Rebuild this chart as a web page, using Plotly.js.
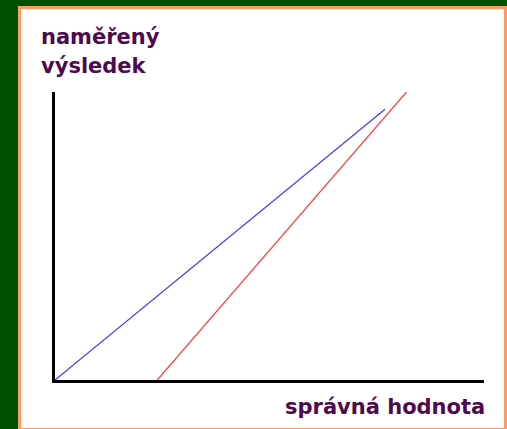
<!DOCTYPE html>
<html>
<head>
<meta charset="utf-8">
<script src="https://cdn.plot.ly/plotly-3.0.1.min.js"></script>
<style>
  html, body { margin:0; padding:0; background:#005000; }
  #chart { width:507px; height:429px; }
</style>
</head>
<body>
<div id="chart"></div>
<script>
// ---- Data ----
const blueX = [0, 10];
const blueY = [0, 8.2];
const redX = [3.1, 10.65];
const redY = [0, 8.72];

const yTitleLines = ['naměřený', 'výsledek'];
const xTitle = 'správná hodnota';

const textColor = '#4d0a4d';
const txtFont = { family: 'DejaVu Sans', size: 21, color: textColor, weight: 'bold' };

const traces = [
  { type:'scatter', mode:'lines', x: blueX, y: blueY, line:{ color:'rgb(60,60,255)', width:1.2 }, hoverinfo:'skip' },
  { type:'scatter', mode:'lines', x: redX, y: redY, line:{ color:'rgb(255,60,60)', width:1.2 }, hoverinfo:'skip' }
];

const ax = { showline:true, linewidth:3, linecolor:'#000', showgrid:false, zeroline:false,
  showticklabels:false, ticks:'', fixedrange:true };

const layout = {
  width: 507, height: 429,
  margin: { l:55, r:23, t:92, b:49 },
  paper_bgcolor: '#005000',
  plot_bgcolor: 'rgba(0,0,0,0)',
  showlegend: false,
  xaxis: { ...ax, range:[0, 13] },
  yaxis: { ...ax, range:[0, 8.72] },
  shapes: [
    { type:'rect', xref:'paper', yref:'paper', layer:'below',
      x0:-0.0828, x1:1.0501, y0:-0.1719, y1:1.2934,
      fillcolor:'#fff', line:{ color:'#ff9966', width:3 } }
  ],
  annotations: [
    { xref:'paper', yref:'paper', x:-0.0373, y:1.191, xanchor:'left', yanchor:'middle',
      text: yTitleLines[0], showarrow:false, font: txtFont },
    { xref:'paper', yref:'paper', x:-0.0373, y:1.090, xanchor:'left', yanchor:'middle',
      text: yTitleLines[1], showarrow:false, font: txtFont },
    { xref:'paper', yref:'paper', x:1.007, y:-0.094, xanchor:'right', yanchor:'middle',
      text: xTitle, showarrow:false, font: txtFont }
  ]
};

Plotly.newPlot('chart', traces, layout, { staticPlot:true, displayModeBar:false });
</script>
</body>
</html>
